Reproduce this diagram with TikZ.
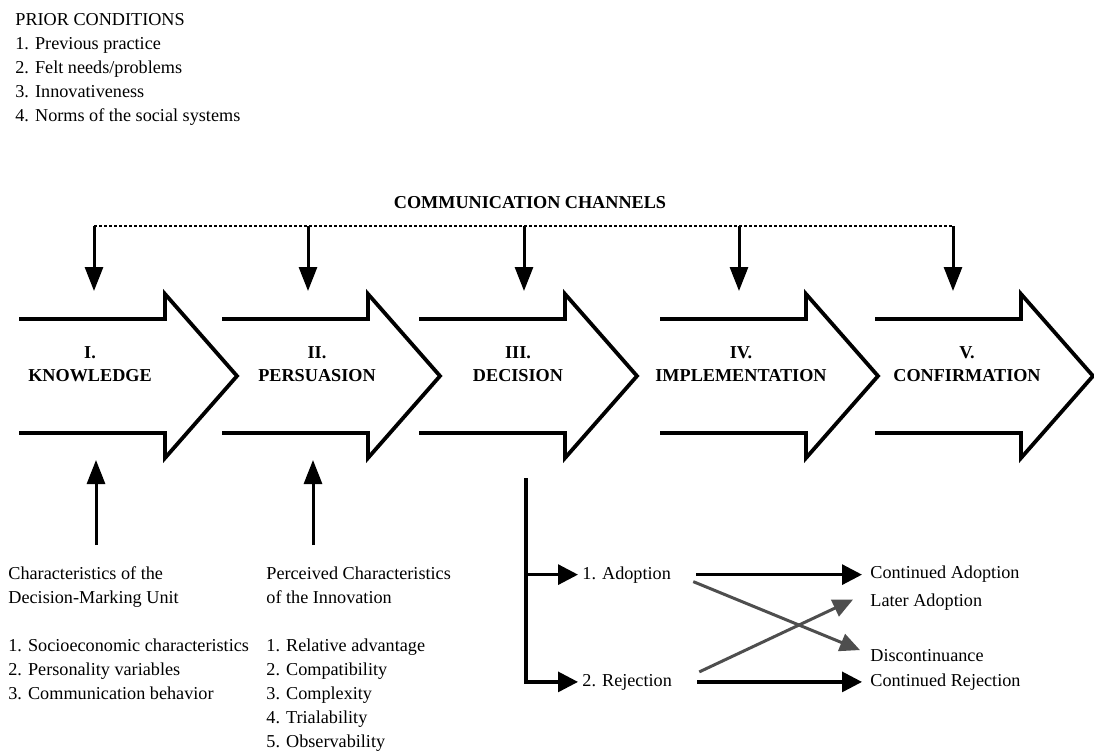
\documentclass[tikz,border=0pt]{standalone}
\usepackage{fontspec}
\setmainfont{Liberation Serif}
\usepackage{tikz}
\usetikzlibrary{arrows.meta}
\definecolor{crossgray}{RGB}{78,78,78}

\begin{document}
\begin{tikzpicture}[x=0.5pt,y=-0.5pt,font=\fontsize{9.1}{12}\selectfont]
\tikzstyle{stage}=[line width=1.9pt,line join=miter]
\tikzstyle{txt}=[inner sep=0pt,anchor=base west,align=left]
\tikzstyle{stagelabel}=[inner sep=0pt,align=center,font=\fontsize{9.1}{11.5}\selectfont\bfseries]
\tikzstyle{feed}=[line width=1.5pt,-{Triangle[length=12pt,width=9pt]}]
\tikzstyle{flow}=[line width=1.6pt,-{Triangle[length=10pt,width=10pt]}]
\tikzstyle{cross}=[line width=1.5pt,color=crossgray,-{Triangle[length=10pt,width=9pt]}]
\tikzstyle{channel}=[line width=0.6pt,dash pattern=on 1.5pt off 1pt]
\useasboundingbox (0,0) rectangle (1094,755);
% prior conditions (base = last line)
\node[txt] (prior) at (15,121) {PRIOR CONDITIONS\\1. Previous practice\\2. Felt needs/problems\\3. Innovativeness\\4. Norms of the social systems};
% communication channels
\node[inner sep=0pt,anchor=base,font=\fontsize{9.1}{12}\selectfont\bfseries] (chan) at (530,208) {COMMUNICATION CHANNELS};
\coordinate (ch1) at (94,226);
\coordinate (ch2) at (308,226);
\coordinate (ch3) at (524,226);
\coordinate (ch4) at (739,226);
\coordinate (ch5) at (953,226);
\coordinate (in1) at (94,291);
\coordinate (in2) at (308,291);
\coordinate (in3) at (524,291);
\coordinate (in4) at (739,291);
\coordinate (in5) at (953,291);
\draw[channel] (ch1) -- (ch5);
\draw[feed] (ch1) -- (in1);
\draw[feed] (ch2) -- (in2);
\draw[feed] (ch3) -- (in3);
\draw[feed] (ch4) -- (in4);
\draw[feed] (ch5) -- (in5);
% stages
\draw[stage] (19,319) -- ++(146,0) -- ++(0,-25) -- ++(72,82) -- ++(-72,82) -- ++(0,-25) -- ++(-146,0);
\draw[stage] (222,319) -- ++(146,0) -- ++(0,-25) -- ++(72,82) -- ++(-72,82) -- ++(0,-25) -- ++(-146,0);
\draw[stage] (419,319) -- ++(146,0) -- ++(0,-25) -- ++(72,82) -- ++(-72,82) -- ++(0,-25) -- ++(-146,0);
\draw[stage] (660,319) -- ++(146,0) -- ++(0,-25) -- ++(72,82) -- ++(-72,82) -- ++(0,-25) -- ++(-146,0);
\draw[stage] (875,319) -- ++(146,0) -- ++(0,-25) -- ++(72,82) -- ++(-72,82) -- ++(0,-25) -- ++(-146,0);
\node[stagelabel] (know) at (90,364) {I.\\KNOWLEDGE};
\node[stagelabel] (pers) at (317,364) {II.\\PERSUASION};
\node[stagelabel] (deci) at (518,364) {III.\\DECISION};
\node[stagelabel] (impl) at (741,364) {IV.\\IMPLEMENTATION};
\node[stagelabel] (conf) at (967,364) {V.\\CONFIRMATION};
% characteristics (base = last line)
\node[txt] (dmu) at (8,699) {Characteristics of the\\Decision-Marking Unit\\[12pt]1. Socioeconomic characteristics\\2. Personality variables\\3. Communication behavior};
\node[txt] (pci) at (266,747) {Perceived Characteristics\\of the Innovation\\[12pt]1. Relative advantage\\2. Compatibility\\3. Complexity\\4. Trialability\\5. Observability};
\coordinate (dmu-up) at (96,545);
\coordinate (know-in) at (96,460);
\coordinate (pci-up) at (313,545);
\coordinate (pers-in) at (313,460);
\draw[feed] (dmu-up) -- (know-in);
\draw[feed] (pci-up) -- (pers-in);
% decision outcomes
\coordinate (dec-out) at (526,478);
\node[txt] (adopt) at (582,579) {1. Adoption};
\node[txt] (reject) at (582,686) {2. Rejection};
\node[txt] (contadopt) at (870,578) {Continued Adoption};
\node[txt] (later) at (870,606) {Later Adoption};
\node[txt] (discont) at (870,661) {Discontinuance};
\node[txt] (contrej) at (870,686) {Continued Rejection};
\draw[flow,shorten >=2pt] (dec-out) |- (adopt.west);
\draw[flow,shorten >=2pt] (dec-out) |- (reject.west);
\draw[flow,shorten <=12.5pt,shorten >=4pt] (adopt.east) -- (adopt.east -| contadopt.west);
\draw[flow,shorten <=12.5pt,shorten >=4pt] (reject.east) -- (reject.east -| contrej.west);
\draw[cross] ([xshift=11pt,yshift=-3.5pt]adopt.east) -- ([xshift=-5pt,yshift=2.5pt]discont.west);
\draw[cross] ([xshift=13.5pt,yshift=5pt]reject.east) -- ([xshift=-8.5pt,yshift=1pt]later.west);
\end{tikzpicture}
\end{document}
